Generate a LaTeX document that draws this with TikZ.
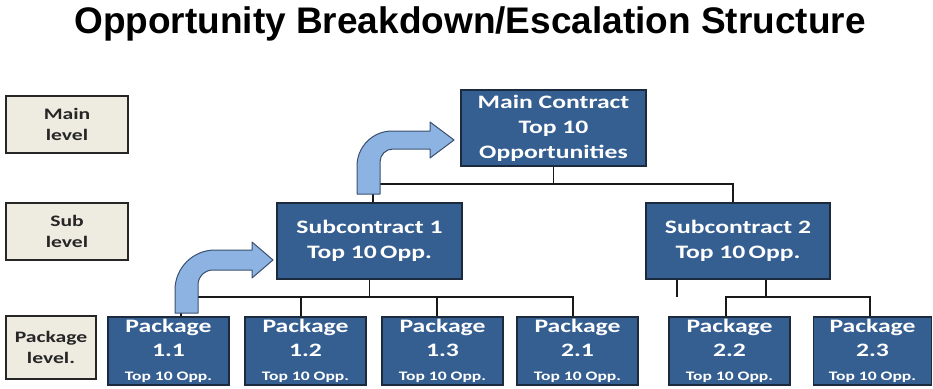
\documentclass[tikz,border=0pt]{standalone}
\usepackage{fontspec}
\setmainfont{Carlito}
\newfontfamily\titlefont{Liberation Sans}
\newfontfamily\boxfont[FakeStretch=1.35]{Carlito}
\definecolor{boxblue}{HTML}{365F91}
\definecolor{boxline}{HTML}{1C2A3D}
\definecolor{tan}{HTML}{EEECE1}
\definecolor{arrowfill}{HTML}{8DB3E2}
\definecolor{arrowline}{HTML}{3A5070}
\begin{document}
\begin{tikzpicture}[x=1pt,y=-1pt,
  levelbox/.style={draw=black!85,line width=1.6pt,fill=tan,inner sep=0pt,align=center,
    font=\boxfont\bfseries\fontsize{16}{21}\selectfont,text=black!85},
  bluebox/.style={draw=boxline,line width=1.4pt,fill=boxblue,inner sep=0pt,align=center,
    text=white,font=\boxfont\bfseries\fontsize{19}{25}\selectfont},
  pkgbox/.style={bluebox,minimum width=121pt,minimum height=68pt},
  conn/.style={draw=black!90,line width=1.3pt},
  bent/.style={fill=arrowfill,draw=arrowline,line width=1pt,line join=round}]
\useasboundingbox (0,0) rectangle (933,388);
\node[font=\titlefont\bfseries\fontsize{37}{40}\selectfont] (title) at (470,24) {Opportunity Breakdown/Escalation Structure};

% level boxes
\node[levelbox,minimum width=122pt,minimum height=57pt] (lmain) at (67,124.5) {Main\\level};
\node[levelbox,minimum width=122pt,minimum height=57pt] (lsub) at (67,231.5) {Sub\\level};
\node[levelbox,minimum width=90pt,minimum height=63pt] (lpkg) at (51,347.5) {Package\\level.};

% main boxes
\node[bluebox,minimum width=185pt,minimum height=76pt] (main) at (553.5,128) {Main Contract\\Top 10\\Opportunities};
\node[bluebox,minimum width=185pt,minimum height=76pt] (sub1) at (369.5,241) {Subcontract 1\\Top 10\,Opp.};
\node[bluebox,minimum width=184pt,minimum height=76pt] (sub2) at (738,241) {Subcontract 2\\Top 10\,Opp.};

\newcommand{\pkgtext}[1]{Package\\[-1pt]#1\\[-1pt]{\fontsize{13}{15}\selectfont Top 10 Opp.}}
\node[pkgbox] (p11) at (168.5,351) {\pkgtext{1.1}};
\node[pkgbox] (p12) at (305.5,351) {\pkgtext{1.2}};
\node[pkgbox] (p13) at (442.5,351) {\pkgtext{1.3}};
\node[pkgbox] (p21) at (577.5,351) {\pkgtext{2.1}};
\node[pkgbox] (p22) at (729.5,351) {\pkgtext{2.2}};
\node[pkgbox,minimum width=118pt] (p23) at (872.5,351) {\pkgtext{2.3}};

% main-level bus
\coordinate (mbL) at (373,184);
\coordinate (mbR) at (733,184);
\draw[conn] (main.south) -- (main.south |- mbL);
\draw[conn] (mbL |- sub1.north) -- (mbL) -- (mbR) -- (mbR |- sub2.north);
% sub1 bus
\coordinate (b1L) at (181,297);
\coordinate (d12) at (301,297);
\coordinate (d13) at (437,297);
\coordinate (b1R) at (573,297);
\draw[conn] (sub1.south) -- (sub1.south |- b1L);
\draw[conn] (b1L |- p11.north) -- (b1L) -- (b1R) -- (b1R |- p21.north);
\draw[conn] (d12) -- (d12 |- p12.north);
\draw[conn] (d13) -- (d13 |- p13.north);
% sub2
\coordinate (s2stub) at (677,297);
\coordinate (s2m) at (766,297);
\coordinate (b2L) at (726,297);
\coordinate (b2R) at (870,297);
\draw[conn] (s2stub |- sub2.south) -- (s2stub);
\draw[conn] (s2m |- sub2.south) -- (s2m);
\draw[conn] (b2L |- p22.north) -- (b2L) -- (b2R) -- (b2R |- p23.north);

% bent arrows
\draw[bent] (357,194) -- (357,166) .. controls (357,146.7) and (372.7,131) .. (392,131)
  -- (430,131) -- (430,122) -- (454,140) -- (430,158) -- (430,149) -- (393,149)
  .. controls (385.8,149) and (380,154.8) .. (380,162) -- (380,194) -- cycle;
\draw[bent] (175,313) -- (175,290) .. controls (175,267.9) and (192.9,250) .. (215,250)
  -- (252,250) -- (252,242) -- (273,260) -- (252,278) -- (252,270) -- (213,270)
  .. controls (204.7,270) and (198,276.7) .. (198,285) -- (198,313) -- cycle;
\end{tikzpicture}
\end{document}
